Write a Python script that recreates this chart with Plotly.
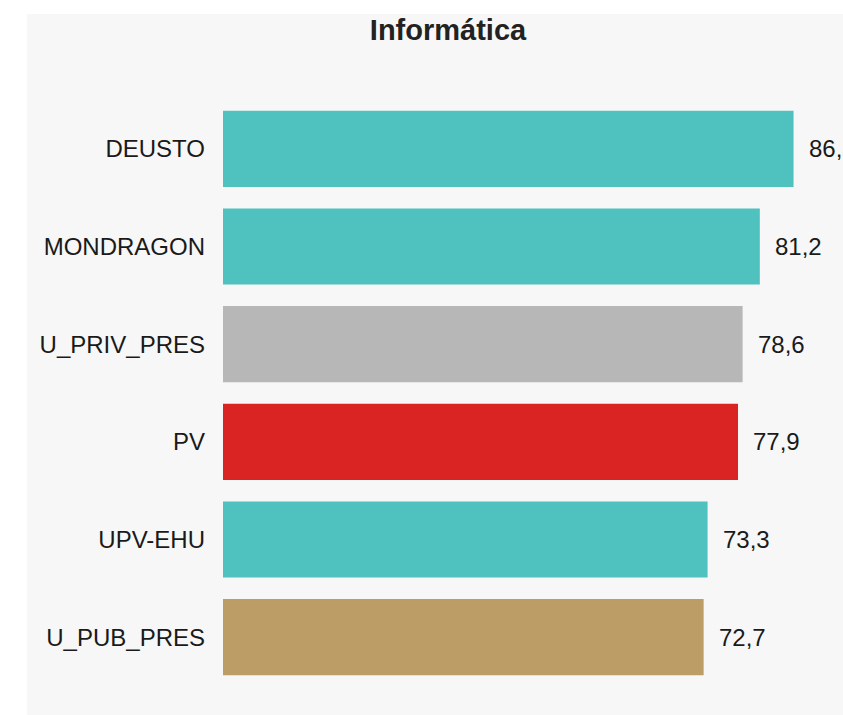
import plotly.graph_objects as go

categories = ["DEUSTO", "MONDRAGON", "U_PRIV_PRES", "PV", "UPV-EHU", "U_PUB_PRES"]
values = [86.3, 81.2, 78.6, 77.9, 73.3, 72.7]
colors = ["#4FC1BE", "#4FC1BE", "#B7B7B7", "#DA2424", "#4FC1BE", "#BD9D66"]
title = "Informática"

W, H = 843, 715
L, R, T, B = 223, 818, 100, 686

fig = go.Figure(go.Bar(
    x=values, y=categories, orientation="h",
    marker=dict(color=colors, line=dict(width=0)),
    hoverinfo="skip",
))

for v, c in zip(values, categories):
    fig.add_annotation(
        x=v, y=c, xref="x", yref="y", text=f"{v:.1f}".replace(".", ","),
        showarrow=False, xanchor="left", yanchor="middle", xshift=13,
        font=dict(family="Liberation Sans, Arial, sans-serif", size=24, color="#1a1a1a"),
    )

pw, ph = R - L, B - T
fig.add_shape(
    type="rect", xref="paper", yref="paper", layer="below",
    x0=(27 - L) / pw, x1=(900 - L) / pw,
    y0=(B - 760) / ph, y1=(B - 14) / ph,
    fillcolor="#F7F7F7", line=dict(width=0),
)

fig.update_layout(
    width=W, height=H, autosize=False,
    margin=dict(l=L, r=W - R, t=T, b=H - B, pad=0),
    paper_bgcolor="white", plot_bgcolor="rgba(0,0,0,0)",
    bargap=0.22, showlegend=False,
    font=dict(family="Liberation Sans, Arial, sans-serif", color="#1a1a1a"),
    title=dict(text=f"<b>{title}</b>", x=448 / W, xref="container", xanchor="center",
               y=1 - 30 / H, yref="container", yanchor="middle",
               font=dict(size=29, color="#222222")),
    xaxis=dict(range=[0, 90], visible=False, showgrid=False, zeroline=False, fixedrange=True),
    yaxis=dict(autorange="reversed", showgrid=False, zeroline=False, showline=False,
               ticks="", ticklabelstandoff=17, tickfont=dict(size=24, color="#1a1a1a")),
)

fig.write_html("out.html", config={"displayModeBar": False},
               post_script="document.body.style.margin='0';document.body.style.overflow='hidden';")
